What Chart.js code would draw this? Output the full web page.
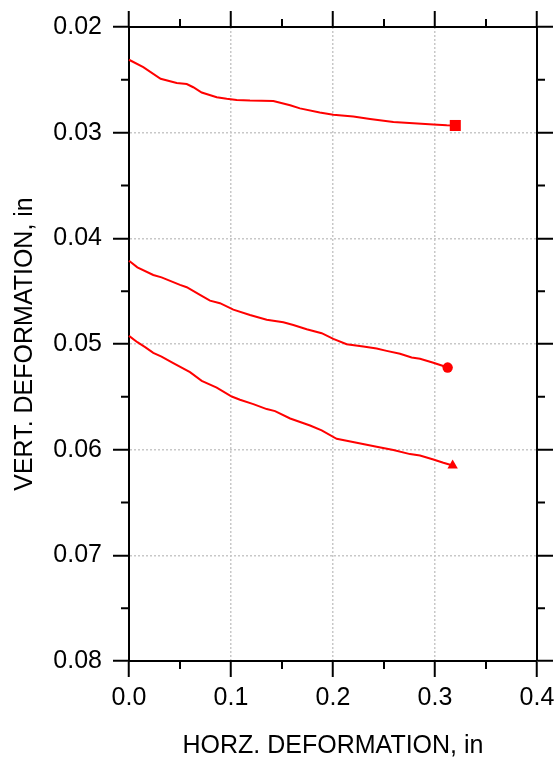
<!DOCTYPE html>
<html>
<head>
<meta charset="utf-8">
<script src="https://cdn.jsdelivr.net/npm/chart.js@4"></script>
<style>
  html, body { margin: 0; padding: 0; background: #fff; }
  #wrap { width: 556px; height: 761px; position: relative; }
</style>
</head>
<body>
<div id="wrap"><canvas id="chart1"></canvas></div>
<script>
// upper curve (square marker at end)
const xTop = [0, 0.014, 0.031, 0.0468, 0.0566, 0.063, 0.0713, 0.086, 0.0958, 0.1056, 0.1186, 0.1415, 0.158, 0.1676, 0.187, 0.2003, 0.2199, 0.2363, 0.2592, 0.2788, 0.2984, 0.3115, 0.3199];
const yTop = [0.0231, 0.0238, 0.0249, 0.0253, 0.0254, 0.0257, 0.0262, 0.02665, 0.0268, 0.0269, 0.02696, 0.0270, 0.0274, 0.0277, 0.0281, 0.0283, 0.02847, 0.0287, 0.0290, 0.0291, 0.02923, 0.0293, 0.02932];

// middle curve (circle marker)
const xMid = [0, 0.0082, 0.0238, 0.0319, 0.05, 0.0566, 0.0696, 0.0794, 0.0892, 0.1023, 0.1186, 0.135, 0.1513, 0.1611, 0.1742, 0.1889, 0.2003, 0.2134, 0.2297, 0.2428, 0.2526, 0.2657, 0.2771, 0.2853, 0.2984, 0.3066, 0.3124];
const yMid = [0.04212, 0.04274, 0.04347, 0.04369, 0.04441, 0.04463, 0.04536, 0.0459, 0.04614, 0.04675, 0.04725, 0.0477, 0.04794, 0.0482, 0.0486, 0.04898, 0.04952, 0.05002, 0.05024, 0.05043, 0.05065, 0.05093, 0.05128, 0.0514, 0.05178, 0.05204, 0.05223];

// lower curve (triangle marker)
const xBot = [0, 0.0082, 0.0158, 0.0238, 0.0319, 0.0434, 0.0598, 0.0713, 0.086, 0.1007, 0.1088, 0.1219, 0.135, 0.1432, 0.158, 0.1775, 0.1889, 0.2036, 0.2134, 0.2232, 0.2428, 0.2592, 0.2755, 0.2853, 0.2984, 0.3082, 0.3173];
const yBot = [0.04923, 0.04983, 0.0503, 0.05084, 0.05119, 0.05181, 0.05267, 0.05349, 0.05412, 0.05497, 0.05528, 0.05569, 0.05616, 0.05635, 0.05705, 0.05771, 0.05818, 0.05897, 0.05916, 0.05935, 0.05973, 0.06004, 0.06042, 0.06055, 0.06093, 0.06124, 0.0615];

const xTicks = ['0.0', '0.1', '0.2', '0.3', '0.4'];
const yTicks = ['0.02', '0.03', '0.04', '0.05', '0.06', '0.07', '0.08'];

const RED = '#ff0000';
const FONT = 'Liberation Sans, Arial, Helvetica, sans-serif';

let pts = (xs, ys) => xs.map((x, i) => ({ x: x, y: ys[i] }));
// marker only on the last point
let radii = (n, r) => { let a = []; for (let i = 0; i < n; i++) a.push(i === n - 1 ? r : 0); return a; };

let series = [
    { data: pts(xTop, yTop), style: 'rect', r: 7.8 },
    { data: pts(xMid, yMid), style: 'circle', r: 5.2 },
    { data: pts(xBot, yBot), style: 'triangle', r: 6 }
];

// minor ticks half way between the major ones, outside on all four sides
const minorTicks = {
    id: 'minorTicks',
    afterDraw(chart) {
        const ctx = chart.ctx;
        const a = chart.chartArea;
        ctx.save();
        ctx.strokeStyle = '#000';
        ctx.lineWidth = 2;
        ctx.beginPath();
        for (let i = 0; i < xTicks.length - 1; i++) {
            let v = (Number(xTicks[i]) + Number(xTicks[i + 1])) / 2;
            let px = chart.scales.x.getPixelForValue(v);
            ctx.moveTo(px, a.bottom); ctx.lineTo(px, a.bottom + 8);
            ctx.moveTo(px, a.top); ctx.lineTo(px, a.top - 8);
        }
        for (let i = 0; i < yTicks.length - 1; i++) {
            let v = (Number(yTicks[i]) + Number(yTicks[i + 1])) / 2;
            let py = chart.scales.y.getPixelForValue(v);
            ctx.moveTo(a.left, py); ctx.lineTo(a.left - 8, py);
            ctx.moveTo(a.right, py); ctx.lineTo(a.right + 8, py);
        }
        ctx.stroke();
        ctx.restore();
    }
};

const gridOpts = (onArea) => ({
    display: true,
    drawOnChartArea: onArea,
    color: '#c8c8c8',
    lineWidth: 1.5,
    tickLength: 16,
    tickColor: '#000',
    tickWidth: 2
});
const borderOpts = { display: true, color: '#000', width: 2, dash: [2, 2] };

let ctx1 = document.getElementById('chart1').getContext('2d');
new Chart(ctx1, {
    type: 'scatter',
    data: {
        datasets: series.map(s => ({
            data: s.data,
            showLine: true,
            borderColor: RED,
            backgroundColor: RED,
            borderWidth: 2,
            tension: 0,
            pointStyle: s.style,
            pointRadius: radii(s.data.length, s.r),
            pointHoverRadius: radii(s.data.length, s.r),
            pointBorderWidth: 0,
            clip: false
        }))
    },
    options: {
        responsive: true,
        maintainAspectRatio: false,
        animation: false,
        events: [],
        layout: { padding: { top: 11, right: 3, left: 0, bottom: 0 } },
        plugins: { legend: { display: false }, tooltip: { enabled: false } },
        scales: {
            x: {
                type: 'linear', position: 'bottom', min: 0, max: 0.4,
                grid: gridOpts(true),
                border: borderOpts,
                ticks: {
                    stepSize: 0.1, color: '#000', padding: 6, maxRotation: 0,
                    font: { family: FONT, size: 25 },
                    callback: (v) => v.toFixed(1)
                },
                title: {
                    display: true, text: 'HORZ. DEFORMATION, in', color: '#000',
                    font: { family: FONT, size: 25 }, padding: { top: 0, bottom: 0 }
                },
                // keep the plot box fixed: 100px below it, no extra room for the last label
                afterFit: (scale) => { scale.height = 100; scale.paddingRight = 19; scale.paddingLeft = 0; }
            },
            x2: {
                type: 'linear', position: 'top', min: 0, max: 0.4,
                grid: gridOpts(false),
                border: borderOpts,
                ticks: { stepSize: 0.1, display: false }
            },
            y: {
                type: 'linear', position: 'left', min: 0.02, max: 0.08, reverse: true,
                grid: gridOpts(true),
                border: borderOpts,
                ticks: {
                    stepSize: 0.01, color: '#000', padding: 11,
                    font: { family: FONT, size: 25 },
                    callback: (v) => v.toFixed(2)
                },
                title: {
                    display: true, text: 'VERT. DEFORMATION, in', color: '#000',
                    font: { family: FONT, size: 25 }, padding: { top: 10, bottom: 0 }
                },
                afterFit: (scale) => { scale.width = 129; }
            },
            y2: {
                type: 'linear', position: 'right', min: 0.02, max: 0.08, reverse: true,
                grid: gridOpts(false),
                border: borderOpts,
                ticks: { stepSize: 0.01, display: false }
            }
        }
    },
    plugins: [minorTicks]
});
</script>
</body>
</html>
